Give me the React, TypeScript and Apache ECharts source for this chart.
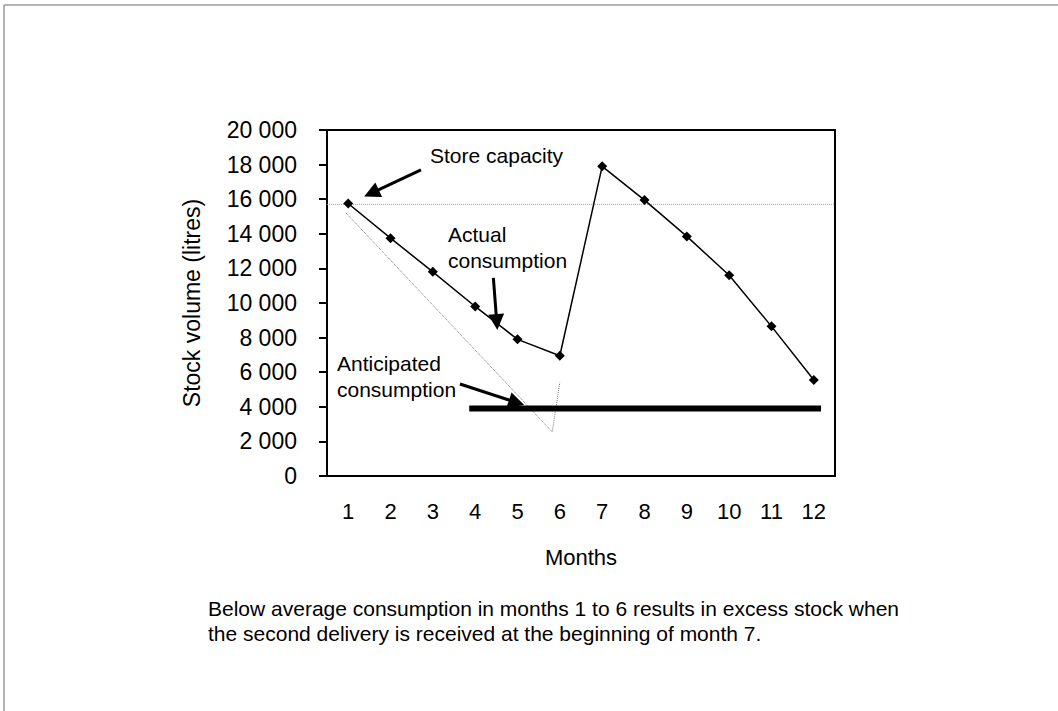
import React, { useEffect, useRef } from "react";
import * as echarts from "echarts";

const months = ["1", "2", "3", "4", "5", "6", "7", "8", "9", "10", "11", "12"];
const actualStock = [15750, 13750, 11800, 9800, 7900, 6950, 17900, 15950, 13850, 11600, 8650, 5550];
const storeCapacity = 15700;
const anticipatedLevel = 3900;
const anticipatedSpan = [3.86, 12.17];
const projectedDecline = [
  [0.95, 15200],
  [5.82, 2550],
  [6.0, 5400],
];
const arrows = [
  { from: [2.72, 17690], to: [1.55, 16350] },
  { from: [4.43, 11450], to: [4.51, 8900] },
  { from: [3.64, 5320], to: [4.98, 4250] },
];
const yMin = 0;
const yMax = 20000;
const yStep = 2000;

const FONT = "'Liberation Sans', Arial, Helvetica, sans-serif";

const fmt = (v: number) => String(v).replace(/\B(?=(\d{3})+(?!\d))/g, " ");

export default function App() {
  const ref = useRef<HTMLDivElement>(null);
  useEffect(() => {
    if (!ref.current) return;
    const chart = echarts.init(ref.current, null, { renderer: "svg" });
    chart.setOption({
      animation: false,
      backgroundColor: "#fff",
      textStyle: { fontFamily: FONT, color: "#000" },
      grid: {
        left: 327,
        top: 130,
        width: 508,
        height: 346,
        show: true,
        borderColor: "#000",
        borderWidth: 2,
        containLabel: false,
      },
      xAxis: [
        {
          type: "category",
          data: months,
          boundaryGap: true,
          position: "bottom",
          axisLine: { lineStyle: { color: "#000", width: 2 } },
          axisTick: { inside: false, length: 8, lineStyle: { color: "#000", width: 2 } },
          axisLabel: { fontSize: 22, color: "#000", margin: 24, fontFamily: FONT },
          name: "Months",
          nameLocation: "middle",
          nameGap: 70,
          nameTextStyle: { fontSize: 22, color: "#000", fontFamily: FONT },
          splitLine: { show: false },
        },
        {
          type: "category",
          data: months,
          boundaryGap: true,
          position: "bottom",
          axisLine: { show: false },
          axisTick: { inside: true, alignWithLabel: true, length: 6, lineStyle: { color: "#000", width: 2 } },
          axisLabel: { show: false },
          splitLine: { show: false },
        },
        {
          type: "value",
          min: 0.5,
          max: 12.5,
          show: false,
          splitLine: { show: false },
        },
      ],
      yAxis: {
        type: "value",
        min: yMin,
        max: yMax,
        interval: yStep,
        axisLine: { show: true, lineStyle: { color: "#000", width: 2 } },
        axisTick: { show: true, inside: false, length: 8, lineStyle: { color: "#000", width: 2 } },
        axisLabel: { fontSize: 23, color: "#000", margin: 30, formatter: fmt, fontFamily: FONT },
        splitLine: { show: false },
        name: "Stock volume (litres)",
        nameLocation: "middle",
        nameGap: 124,
        nameTextStyle: { fontSize: 23, color: "#000", fontFamily: FONT },
      },
      series: [
        {
          name: "Store capacity",
          type: "line",
          xAxisIndex: 2,
          data: [
            [0.45, storeCapacity],
            [12.5, storeCapacity],
          ],
          symbol: "none",
          clip: false,
          lineStyle: { color: "#999", width: 1, type: "dotted" },
          z: 1,
        },
        {
          name: "Projected decline",
          type: "line",
          xAxisIndex: 2,
          data: projectedDecline,
          symbol: "none",
          lineStyle: { color: "#777", width: 1, type: "dotted" },
          z: 1,
        },
        {
          name: "Anticipated consumption",
          type: "line",
          xAxisIndex: 2,
          data: [
            [anticipatedSpan[0], anticipatedLevel],
            [anticipatedSpan[1], anticipatedLevel],
          ],
          symbol: "none",
          lineStyle: { color: "#000", width: 6 },
          z: 2,
        },
        {
          name: "Actual consumption",
          type: "line",
          xAxisIndex: 0,
          data: actualStock,
          symbol: "diamond",
          symbolSize: 10,
          itemStyle: { color: "#000" },
          lineStyle: { color: "#000", width: 1.5 },
          z: 3,
        },
        {
          name: "Arrows",
          type: "lines",
          coordinateSystem: "cartesian2d",
          xAxisIndex: 2,
          yAxisIndex: 0,
          symbol: ["none", "triangle"],
          symbolSize: [13, 16],
          lineStyle: { color: "#000", width: 3, opacity: 1, curveness: 0 },
          itemStyle: { color: "#000" },
          data: arrows.map((a) => ({ coords: [a.from, a.to] })),
          z: 4,
        },
      ],
      graphic: [
        { type: "line", shape: { x1: 4, y1: 5, x2: 1058, y2: 5 }, style: { stroke: "#9a9a9a", lineWidth: 1.5 } },
        { type: "line", shape: { x1: 4, y1: 5, x2: 4, y2: 711 }, style: { stroke: "#9a9a9a", lineWidth: 1.5 } },
        {
          type: "text",
          left: 430,
          top: 145,
          style: { text: "Store capacity", fontSize: 21, fontFamily: FONT, fill: "#000" },
        },
        {
          type: "text",
          left: 448,
          top: 224,
          style: { text: "Actual", fontSize: 21, fontFamily: FONT, fill: "#000" },
        },
        {
          type: "text",
          left: 448,
          top: 250,
          style: { text: "consumption", fontSize: 21, fontFamily: FONT, fill: "#000" },
        },
        {
          type: "text",
          left: 337,
          top: 353,
          style: { text: "Anticipated", fontSize: 21, fontFamily: FONT, fill: "#000" },
        },
        {
          type: "text",
          left: 337,
          top: 379,
          style: { text: "consumption", fontSize: 21, fontFamily: FONT, fill: "#000" },
        },
        {
          type: "text",
          left: 208,
          top: 596,
          style: {
            text:
              "Below average consumption in months 1 to 6 results in excess stock when\nthe second delivery is received at the beginning of month 7.",
            fontSize: 21,
            lineHeight: 25,
            fontFamily: FONT,
            fill: "#000",
          },
        },
      ],
    });
    return () => chart.dispose();
  }, []);
  return (
    <div
      ref={ref}
      style={{ position: "absolute", left: 0, top: 0, width: 1058, height: 711 }}
    />
  );
}
